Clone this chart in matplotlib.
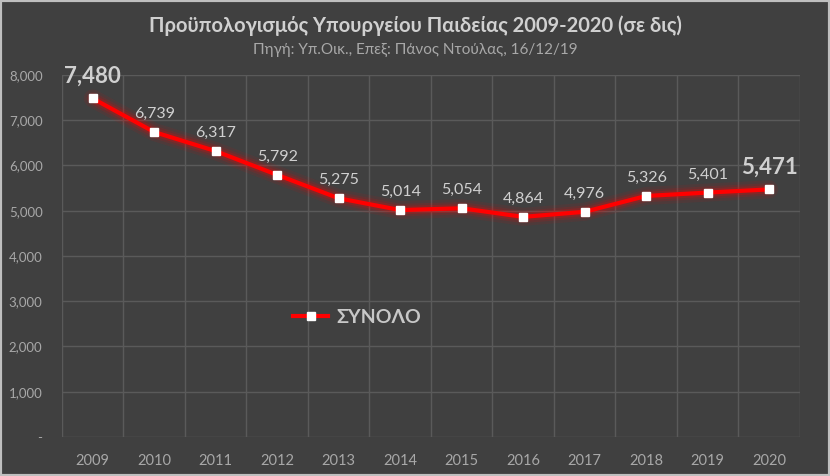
import matplotlib.pyplot as plt
from matplotlib.patches import Rectangle
from matplotlib.lines import Line2D

# data
years = ["2009", "2010", "2011", "2012", "2013", "2014",
         "2015", "2016", "2017", "2018", "2019", "2020"]
budget = [7480, 6739, 6317, 5792, 5275, 5014,
          5054, 4864, 4976, 5326, 5401, 5471]
y_ticks = [0, 1000, 2000, 3000, 4000, 5000, 6000, 7000, 8000]
y_tick_labels = ["-", "1,000", "2,000", "3,000", "4,000",
                 "5,000", "6,000", "7,000", "8,000"]

title = "Προϋπολογισμός Υπουργείου Παιδείας 2009-2020 (σε δις)"
subtitle = "Πηγή: Υπ.Οικ., Επεξ: Πάνος Ντούλας, 16/12/19"
series_name = "ΣΥΝΟΛΟ"

plt.rcParams["font.family"] = ["Lato", "Open Sans", "DejaVu Sans"]

bg = "#404040"
grid_c = "#5a5a5a"
text_c = "#d0d0d0"
tick_c = "#a8a8a8"

fig = plt.figure(figsize=(8.3, 4.76), dpi=100, facecolor=bg)
ax = fig.add_axes([0.0747, 0.082, 0.889, 0.7605])
ax.set_facecolor(bg)

x = list(range(len(years)))

# glow
for w, a in [(13, 0.08), (9, 0.12), (6, 0.2)]:
    ax.plot(x, budget, color="#ff0000", linewidth=w, alpha=a,
            solid_capstyle="round", solid_joinstyle="round", zorder=2)
ax.plot(x, budget, color="#ff0000", linewidth=3,
        solid_joinstyle="round", zorder=3)
ax.plot(x, budget, linestyle="none", marker="s", markersize=6,
        markerfacecolor="white", markeredgecolor="white", zorder=4)

# data labels
for i, v in enumerate(budget):
    big = i == 0 or i == len(budget) - 1
    ax.annotate(f"{v:,}", (i, v), textcoords="offset points",
                xytext=(0, 16 if big else 13), ha="center", va="center",
                fontsize=16 if big else 11.5, fontweight="bold" if big else "normal",
                color=text_c, zorder=5)

ax.set_xlim(-0.5, len(years) - 0.5)
ax.set_ylim(0, 8000)
ax.set_yticks(y_ticks)
ax.set_yticklabels(y_tick_labels)
ax.set_xticks(x)
ax.set_xticklabels(years)
ax.set_xticks([i - 0.5 for i in range(len(years) + 1)], minor=True)
ax.tick_params(axis="both", which="both", length=0, colors=tick_c)
ax.tick_params(axis="y", labelsize=9.5, pad=14)
ax.tick_params(axis="x", labelsize=10.5, pad=12)
ax.grid(axis="y", which="major", color=grid_c, linewidth=1)
ax.grid(axis="x", which="minor", color=grid_c, linewidth=1)
for s in ax.spines.values():
    s.set_visible(False)

# legend
handle = Line2D([0], [0], color="#ff0000", linewidth=3, marker="s",
                markersize=6, markerfacecolor="white", markeredgecolor="white")
leg = ax.legend([handle], [series_name], loc="center left",
                bbox_to_anchor=(0.29, 0.33), frameon=False,
                prop={"size": 14, "weight": "bold"}, handlelength=1.8,
                handletextpad=0.4)
for t in leg.get_texts():
    t.set_color("#c8c8c8")

fig.text(0.5, 0.945, title, ha="center", va="center", fontsize=14.5,
         fontweight="bold", color=text_c)
fig.text(0.5, 0.895, subtitle, ha="center", va="center", fontsize=11,
         color=tick_c)

fig.patches.append(Rectangle((0, 0), 1, 1, transform=fig.transFigure,
                             fill=False, edgecolor="#bfbfbf", linewidth=3))

fig.savefig("out.png", dpi=100, facecolor=bg)
